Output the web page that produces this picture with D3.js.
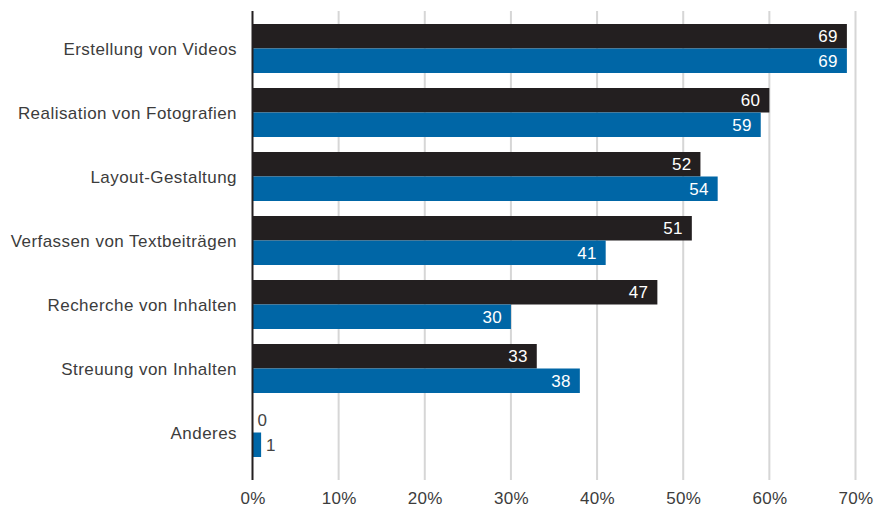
<!DOCTYPE html>
<html>
<head>
<meta charset="utf-8">
<script src="https://cdn.jsdelivr.net/npm/d3@7"></script>
<style>
  html, body { margin: 0; padding: 0; background: #fff; }
  svg text { font-family: "Liberation Sans", Arial, sans-serif; }
</style>
</head>
<body>
<svg id="chart" width="875" height="511"></svg>
<script>
// Tätigkeiten und Anteile in Prozent für zwei Gruppen
const categories = [
  "Erstellung von Videos",
  "Realisation von Fotografien",
  "Layout-Gestaltung",
  "Verfassen von Textbeiträgen",
  "Recherche von Inhalten",
  "Streuung von Inhalten",
  "Anderes"
];
const seriesA = [69, 60, 52, 51, 47, 33, 0];
const seriesB = [69, 59, 54, 41, 30, 38, 1];
const tickValues = [0, 10, 20, 30, 40, 50, 60, 70];

const colorA = "#231f20";
const colorB = "#0066a6";

const svg = d3.select("#chart");

const x = d3.scaleLinear().domain([0, 70]).range([252.5, 855.5]);
const y = d3.scaleBand().domain(categories).range([16.5, 464.5]).paddingInner(15 / 64).paddingOuter(15 / 128);
const sub = d3.scaleBand().domain(["A", "B"]).range([0, y.bandwidth()]);

// vertical grid lines
svg.append("g")
  .selectAll("line")
  .data(tickValues.slice(1))
  .join("line")
  .attr("x1", d => x(d)).attr("x2", d => x(d))
  .attr("y1", 11).attr("y2", 480)
  .attr("stroke", "#d6d6d6")
  .attr("stroke-width", 2);

const rows = categories.map((c, i) => ({ c, a: seriesA[i], b: seriesB[i] }));

const groups = svg.append("g")
  .selectAll("g")
  .data(rows)
  .join("g")
  .attr("transform", d => `translate(0,${y(d.c)})`);

const bars = [
  { key: "A", get: d => d.a, color: colorA },
  { key: "B", get: d => d.b, color: colorB }
];

bars.forEach(s => {
  groups.append("rect")
    .attr("x", x(0))
    .attr("y", sub(s.key))
    .attr("width", d => x(s.get(d)) - x(0))
    .attr("height", sub.bandwidth())
    .attr("fill", s.color);

  groups.append("text")
    .attr("x", d => {
      const v = s.get(d);
      return v < 5 ? x(v) + 5 : x(v) - 9;
    })
    .attr("y", sub(s.key) + sub.bandwidth() / 2)
    .attr("dy", "0.36em")
    .attr("text-anchor", d => s.get(d) < 5 ? "start" : "end")
    .attr("font-size", 17)
    .attr("letter-spacing", "0.3px")
    .attr("fill", d => s.get(d) < 5 ? "#444" : "#fff")
    .text(d => s.get(d));
});

// category labels
svg.append("g")
  .selectAll("text")
  .data(categories)
  .join("text")
  .attr("x", 237)
  .attr("y", d => y(d) + y.bandwidth() / 2)
  .attr("dy", "0.36em")
  .attr("text-anchor", "end")
  .attr("font-size", 17)
  .attr("letter-spacing", "0.45px")
  .attr("fill", "#3c3c3c")
  .text(d => d);

// baseline axis
svg.append("line")
  .attr("x1", x(0)).attr("x2", x(0))
  .attr("y1", 11).attr("y2", 480)
  .attr("stroke", colorA)
  .attr("stroke-width", 2);

// tick labels
const xAxis = d3.axisBottom(x).tickValues(tickValues).tickSize(0).tickPadding(0).tickFormat(d => d + "%");
const ax = svg.append("g").attr("transform", "translate(0,492)").call(xAxis);
ax.select(".domain").remove();
ax.selectAll("text")
  .attr("font-size", 17)
  .attr("letter-spacing", "0.3px")
  .attr("fill", "#3c3c3c")
  .attr("font-family", "Liberation Sans, Arial, sans-serif");
</script>
</body>
</html>
